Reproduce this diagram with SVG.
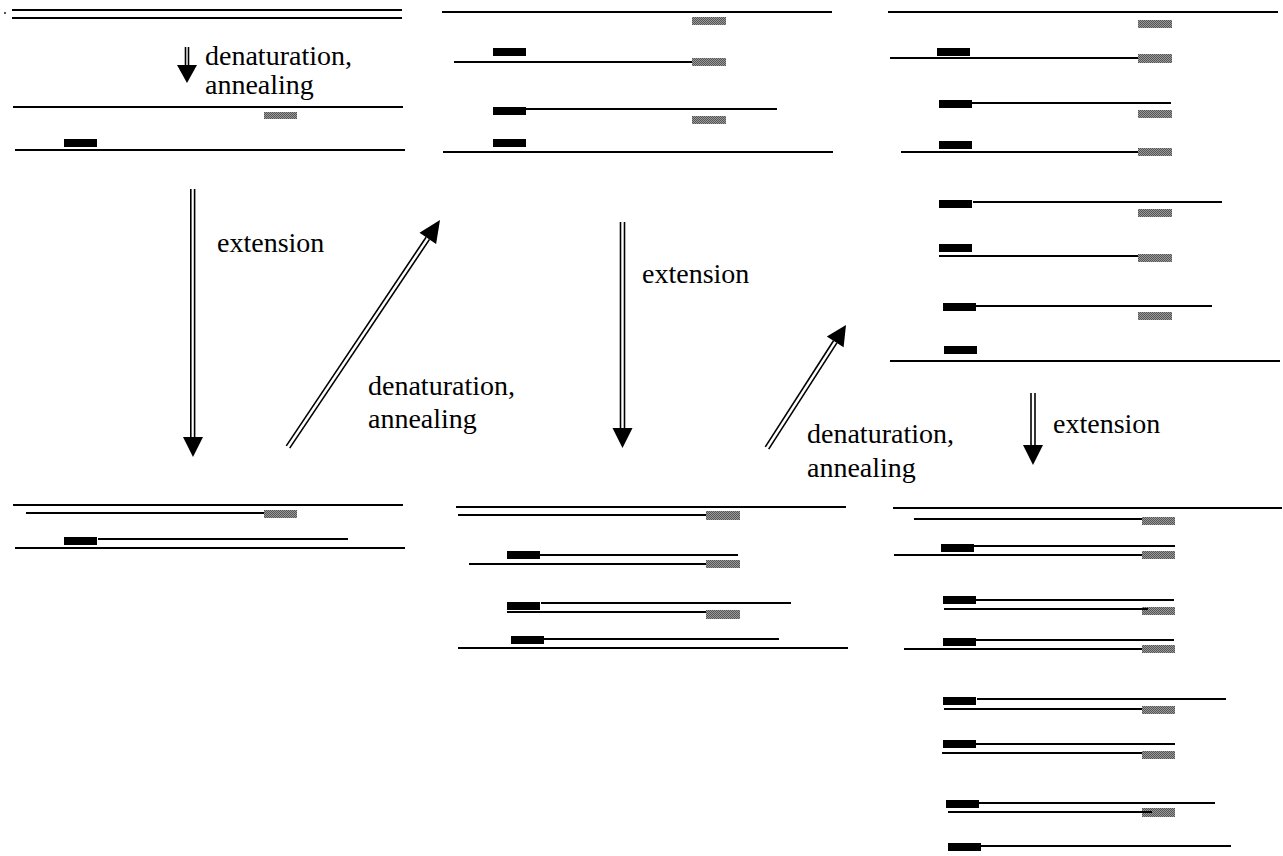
<svg xmlns="http://www.w3.org/2000/svg" width="1283" height="856" viewBox="0 0 1283 856">
<defs>
<pattern id="dither" width="2" height="2" patternUnits="userSpaceOnUse">
<rect width="2" height="2" fill="#999"/>
<rect width="1" height="1" fill="#555"/>
<rect x="1" y="1" width="1" height="1" fill="#555"/>
</pattern>
</defs>
<style>
.s{stroke:#000;stroke-width:2;fill:none}
.bp{fill:#000}
.gp{fill:url(#dither)}
.sh{stroke:#000;stroke-width:1.6;fill:none}
.hd{fill:#000}
.t{font-family:"Liberation Serif","Times New Roman",serif;font-size:28px;fill:#000}
</style>
<rect width="1283" height="856" fill="#fff"/>
<circle cx="5" cy="13" r="0.9" fill="#000"/>

<g id="panel1-top">
<line class="s" x1="12" y1="10" x2="402" y2="10"/>
<line class="s" x1="12" y1="18" x2="402" y2="18"/>
<line class="s" x1="13" y1="107" x2="403" y2="107"/>
<rect class="gp" x="264" y="112" width="33" height="7"/>
<rect class="bp" x="64" y="139" width="33" height="8"/>
<line class="s" x1="15" y1="150" x2="405" y2="150"/>
</g>

<g id="panel1-bottom">
<line class="s" x1="13" y1="505" x2="403" y2="505"/>
<rect class="gp" x="264" y="510" width="33" height="8"/>
<line class="s" x1="26" y1="513" x2="264" y2="513"/>
<rect class="bp" x="64" y="537" width="33" height="8"/>
<line class="s" x1="98" y1="539" x2="348" y2="539"/>
<line class="s" x1="15" y1="548" x2="405" y2="548"/>
</g>

<g id="panel2-top">
<line class="s" x1="442" y1="12" x2="832" y2="12"/>
<rect class="gp" x="692" y="17" width="34" height="8"/>
<rect class="bp" x="493" y="48" width="33" height="8"/>
<rect class="gp" x="692" y="58" width="34" height="8"/>
<line class="s" x1="454" y1="62" x2="692" y2="62"/>
<rect class="bp" x="493" y="107" width="33" height="8"/>
<line class="s" x1="526" y1="109" x2="777" y2="109"/>
<rect class="gp" x="692" y="116" width="34" height="8"/>
<rect class="bp" x="493" y="139" width="33" height="8"/>
<line class="s" x1="443" y1="152" x2="833" y2="152"/>
</g>

<g id="panel3-top">
<line class="s" x1="888" y1="12" x2="1278" y2="12"/>
<rect class="gp" x="1138" y="20" width="34" height="8"/>
<rect class="bp" x="937" y="48" width="33" height="8"/>
<rect class="gp" x="1138" y="54" width="34" height="9"/>
<line class="s" x1="890" y1="58" x2="1138" y2="58"/>
<rect class="bp" x="939" y="100" width="33" height="8"/>
<line class="s" x1="972" y1="103" x2="1171" y2="103"/>
<rect class="gp" x="1138" y="110" width="34" height="8"/>
<rect class="bp" x="939" y="141" width="33" height="8"/>
<rect class="gp" x="1138" y="148" width="34" height="8"/>
<line class="s" x1="901" y1="152" x2="1138" y2="152"/>
<rect class="bp" x="939" y="200" width="33" height="8"/>
<line class="s" x1="973" y1="202" x2="1222" y2="202"/>
<rect class="gp" x="1138" y="209" width="34" height="8"/>
<rect class="bp" x="939" y="244" width="33" height="8"/>
<rect class="gp" x="1138" y="254" width="34" height="8"/>
<line class="s" x1="939" y1="256" x2="1138" y2="256"/>
<rect class="bp" x="943" y="303" width="33" height="8"/>
<line class="s" x1="976" y1="306" x2="1212" y2="306"/>
<rect class="gp" x="1138" y="312" width="34" height="8"/>
<rect class="bp" x="944" y="346" width="33" height="8"/>
<line class="s" x1="890" y1="361" x2="1280" y2="361"/>
</g>

<g id="panel2-bottom">
<line class="s" x1="456" y1="507" x2="846" y2="507"/>
<rect class="gp" x="706" y="511" width="34" height="9"/>
<line class="s" x1="458" y1="515" x2="706" y2="515"/>
<rect class="bp" x="507" y="551" width="33" height="8"/>
<line class="s" x1="540" y1="555" x2="738" y2="555"/>
<rect class="gp" x="706" y="560" width="34" height="8"/>
<line class="s" x1="469" y1="564" x2="706" y2="564"/>
<rect class="bp" x="507" y="602" width="33" height="8"/>
<line class="s" x1="541" y1="603" x2="791" y2="603"/>
<rect class="gp" x="706" y="610" width="34" height="9"/>
<line class="s" x1="507" y1="612" x2="706" y2="612"/>
<rect class="bp" x="511" y="636" width="33" height="8"/>
<line class="s" x1="544" y1="639" x2="779" y2="639"/>
<line class="s" x1="458" y1="648" x2="848" y2="648"/>
</g>

<g id="panel3-bottom">
<line class="s" x1="893" y1="508" x2="1282" y2="508"/>
<rect class="gp" x="1142" y="517" width="33" height="8"/>
<line class="s" x1="914" y1="519" x2="1142" y2="519"/>
<rect class="bp" x="941" y="544" width="33" height="8"/>
<line class="s" x1="974" y1="546" x2="1175" y2="546"/>
<rect class="gp" x="1142" y="551" width="33" height="8"/>
<line class="s" x1="894" y1="555" x2="1142" y2="555"/>
<rect class="bp" x="943" y="596" width="33" height="8"/>
<line class="s" x1="976" y1="600" x2="1174" y2="600"/>
<rect class="gp" x="1142" y="607" width="33" height="8"/>
<line class="s" x1="944" y1="609" x2="1148" y2="609"/>
<rect class="bp" x="943" y="638" width="33" height="8"/>
<line class="s" x1="976" y1="640" x2="1174" y2="640"/>
<rect class="gp" x="1142" y="645" width="33" height="8"/>
<line class="s" x1="904" y1="649" x2="1142" y2="649"/>
<rect class="bp" x="943" y="697" width="33" height="8"/>
<line class="s" x1="977" y1="699" x2="1226" y2="699"/>
<rect class="gp" x="1142" y="706" width="33" height="8"/>
<line class="s" x1="944" y1="709" x2="1142" y2="709"/>
<rect class="bp" x="943" y="740" width="33" height="8"/>
<line class="s" x1="976" y1="744" x2="1175" y2="744"/>
<rect class="gp" x="1142" y="751" width="33" height="8"/>
<line class="s" x1="942" y1="753" x2="1142" y2="753"/>
<rect class="bp" x="946" y="800" width="33" height="8"/>
<line class="s" x1="979" y1="803" x2="1215" y2="803"/>
<rect class="gp" x="1142" y="808" width="33" height="9"/>
<line class="s" x1="948" y1="812" x2="1152" y2="812"/>
<rect class="bp" x="948" y="843" width="33" height="8"/>
<line class="s" x1="981" y1="846" x2="1231" y2="846"/>
</g>

<g id="connectors">
<g id="arrow-small">
<line class="sh" x1="185.5" y1="47" x2="185.5" y2="66"/>
<line class="sh" x1="188.5" y1="47" x2="188.5" y2="66"/>
<polygon class="hd" points="177,65 197,65 187,83"/>
</g>
<g id="arrow-ext1">
<line class="sh" x1="190.8" y1="189" x2="190.8" y2="438"/>
<line class="sh" x1="194.6" y1="189" x2="194.6" y2="438"/>
<polygon class="hd" points="183,437 203,437 193,457"/>
</g>
<g id="arrow-den1">
<line class="sh" x1="286.3" y1="445.9" x2="426.1" y2="237.2"/>
<line class="sh" x1="289.7" y1="448.1" x2="429.5" y2="239.4"/>
<polygon class="hd" points="440,220 436.1,243.9 419.5,232.7"/>
</g>
<g id="arrow-ext2">
<line class="sh" x1="620.5" y1="222" x2="620.5" y2="429"/>
<line class="sh" x1="624.5" y1="222" x2="624.5" y2="429"/>
<polygon class="hd" points="612.5,428 632.5,428 622.5,448"/>
</g>
<g id="arrow-den2">
<line class="sh" x1="765.3" y1="446.9" x2="833.5" y2="340.7"/>
<line class="sh" x1="768.7" y1="449.1" x2="836.9" y2="342.9"/>
<polygon class="hd" points="846,325 843.6,347.2 826.8,336.4"/>
</g>
<g id="arrow-ext3">
<line class="sh" x1="1031" y1="393" x2="1031" y2="446"/>
<line class="sh" x1="1035" y1="393" x2="1035" y2="446"/>
<polygon class="hd" points="1023,445 1043,445 1033,465"/>
</g>
</g>

<g id="labels">
<text class="t" x="205" y="65">denaturation,</text>
<text class="t" x="205" y="94">annealing</text>
<text class="t" x="217" y="252">extension</text>
<text class="t" x="368" y="395">denaturation,</text>
<text class="t" x="368" y="428">annealing</text>
<text class="t" x="642" y="283">extension</text>
<text class="t" x="807" y="443">denaturation,</text>
<text class="t" x="807" y="477">annealing</text>
<text class="t" x="1053" y="433">extension</text>
</g>
</svg>
